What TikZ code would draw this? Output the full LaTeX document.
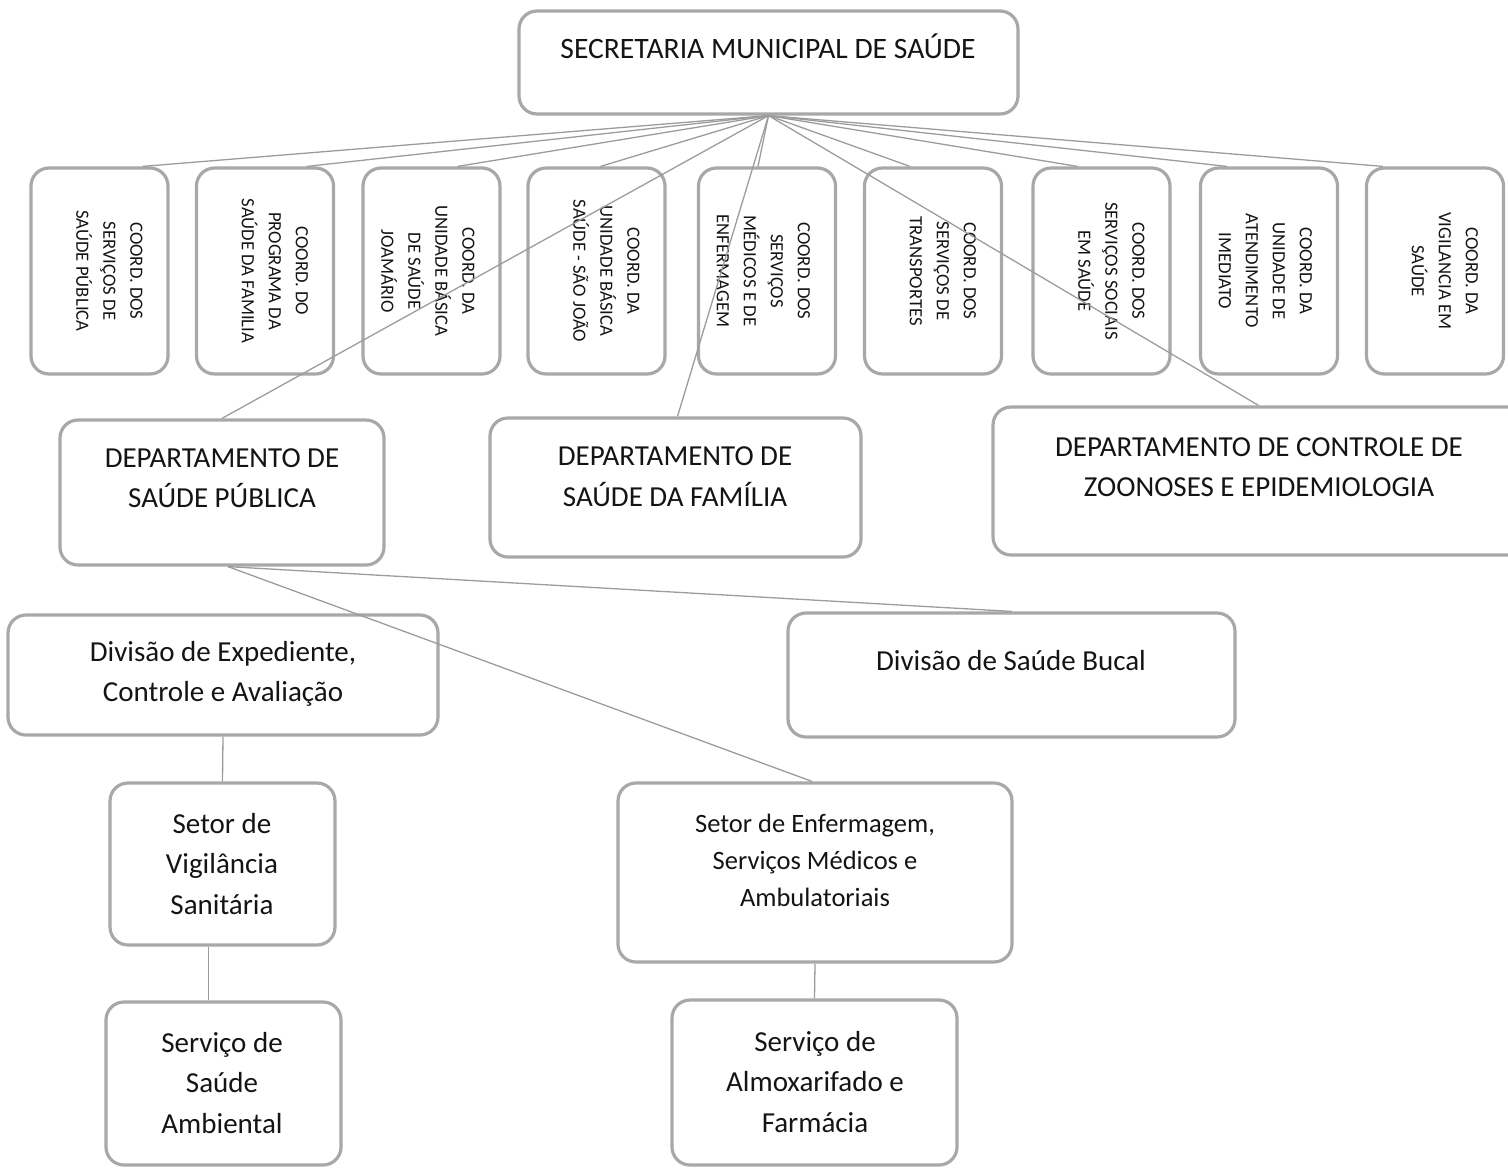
\documentclass[tikz,border=0pt]{standalone}
\usepackage{fontspec}
\setmainfont{Carlito}
\definecolor{boxgray}{HTML}{A8A8A8}
\definecolor{linegray}{HTML}{9C9C9C}
\definecolor{txt}{HTML}{141414}
\tikzset{
  box/.style={draw=boxgray, line width=3.2pt, rounded corners=18pt, inner sep=0pt},
  lbl/.style={text=txt, align=center, inner sep=0pt, font=\fontsize{29}{40.5}\selectfont},
  slbl/.style={text=txt, align=center, inner sep=0pt, font=\fontsize{26.5}{37}\selectfont},
  ctext/.style={text=txt, align=center, inner sep=0pt, rotate=-90, anchor=north, font=\fontsize{18.7}{27}\selectfont},
  conn/.style={draw=linegray, line width=1.3pt}
}
\begin{document}
\begin{tikzpicture}[x=1pt,y=-1pt]
\useasboundingbox (0,0) rectangle (1508,1171);
% top
\node[box, minimum width=499pt, minimum height=103pt] (top) at (768.5,62.5) {};
\node[lbl, font=\fontsize{29.6}{40.5}\selectfont] (topT) at (768,46) {SECRETARIA MUNICIPAL DE SAÚDE};
% coordination boxes
\foreach \n/\cx in {1/99.5,2/265,3/431.5,4/596.5,5/767,6/933,7/1101.5,8/1269,9/1435}{
  \node[box, minimum width=137pt, minimum height=206pt] (c\n) at (\cx,271) {};
}
\node[ctext] (c1T) at ([xshift=-27pt]c1.east) {COORD. DOS\\SERVIÇOS DE\\SAÚDE PÚBLICA};
\node[ctext] (c2T) at ([xshift=-27pt]c2.east) {COORD. DO\\PROGRAMA DA\\SAÚDE DA FAMILIA};
\node[ctext] (c3T) at ([xshift=-27pt]c3.east) {COORD. DA\\UNIDADE BÁSICA\\DE SAÚDE\\JOAMÁRIO};
\node[ctext] (c4T) at ([xshift=-27pt]c4.east) {COORD. DA\\UNIDADE BÁSICA\\SAÚDE - SÃO JOÃO};
\node[ctext] (c5T) at ([xshift=-27pt]c5.east) {COORD. DOS\\SERVIÇOS\\MÉDICOS E DE\\ENFERMAGEM};
\node[ctext] (c6T) at ([xshift=-27pt]c6.east) {COORD. DOS\\SERVIÇOS DE\\TRANSPORTES};
\node[ctext] (c7T) at ([xshift=-27pt]c7.east) {COORD. DOS\\SERVIÇOS SOCIAIS\\EM SAÚDE};
\node[ctext] (c8T) at ([xshift=-27pt]c8.east) {COORD. DA\\UNIDADE DE\\ATENDIMENTO\\IMEDIATO};
\node[ctext] (c9T) at ([xshift=-27pt]c9.east) {COORD. DA\\VIGILANCIA EM\\SAÚDE};
% departments
\node[box, minimum width=324pt, minimum height=145pt] (dSP) at (222,492.5) {};
\node[lbl] (dSPT) at (222,478) {DEPARTAMENTO DE\\SAÚDE PÚBLICA};
\node[box, minimum width=371pt, minimum height=139pt] (dSF) at (675.5,487.5) {};
\node[lbl] (dSFT) at (675,476.5) {DEPARTAMENTO DE\\SAÚDE DA FAMÍLIA};
\node[box, minimum width=537pt, minimum height=148pt] (dZ) at (1261.5,481) {};
\node[lbl] (dZT) at (1259,467) {DEPARTAMENTO DE CONTROLE DE\\ZOONOSES E EPIDEMIOLOGIA};
% divisions
\node[box, minimum width=430pt, minimum height=120pt] (divE) at (223,675) {};
\node[lbl] (divET) at (223,674) {Divisão de Expediente,\\Controle e Avaliação};
\node[box, minimum width=447pt, minimum height=124pt] (divB) at (1011.5,675) {};
\node[lbl] (divBT) at (1011,661) {Divisão de Saúde Bucal};
% sectors
\node[box, minimum width=225pt, minimum height=162pt] (sV) at (222.5,864) {};
\node[lbl] (sVT) at (222,864) {Setor de\\Vigilância\\Sanitária};
\node[box, minimum width=394pt, minimum height=179pt] (sE) at (815,872.5) {};
\node[slbl] (sET) at (815,860) {Setor de Enfermagem,\\Serviços Médicos e\\Ambulatoriais};
% services
\node[box, minimum width=235pt, minimum height=163pt] (svA) at (223.5,1083.5) {};
\node[lbl] (svAT) at (222,1083) {Serviço de\\Saúde\\Ambiental};
\node[box, minimum width=285pt, minimum height=165pt] (svF) at (814.5,1082.5) {};
\node[lbl] (svFT) at (815,1082) {Serviço de\\Almoxarifado e\\Farmácia};
% connectors
\draw[conn] (top.south) -- ([xshift=43pt]c1.north);
\draw[conn] (top.south) -- ([xshift=42pt]c2.north);
\draw[conn] (top.south) -- ([xshift=26pt]c3.north);
\draw[conn] (top.south) -- ([xshift=4pt]c4.north);
\draw[conn] (top.south) -- ([xshift=-9pt]c5.north);
\draw[conn] (top.south) -- ([xshift=-23pt]c6.north);
\draw[conn] (top.south) -- ([xshift=-24pt]c7.north);
\draw[conn] (top.south) -- ([xshift=-42pt]c8.north);
\draw[conn] (top.south) -- ([xshift=-52pt]c9.north);
\draw[conn] (top.south) -- (dSP.north);
\draw[conn] (top.south) -- ([xshift=2pt]dSF.north);
\draw[conn] (top.south) -- ([xshift=-3pt]dZ.north);
\draw[conn] ([xshift=6pt]dSP.south) -- (divB.north);
\draw[conn] ([xshift=6pt]dSP.south) -- ([xshift=-3pt]sE.north);
\draw[conn] (divE.south) -- (sV.north);
\draw[conn] ([xshift=-14pt]sV.south) -- ([xshift=-15pt]svA.north);
\draw[conn] (sE.south) -- (svF.north);
\end{tikzpicture}
\end{document}
